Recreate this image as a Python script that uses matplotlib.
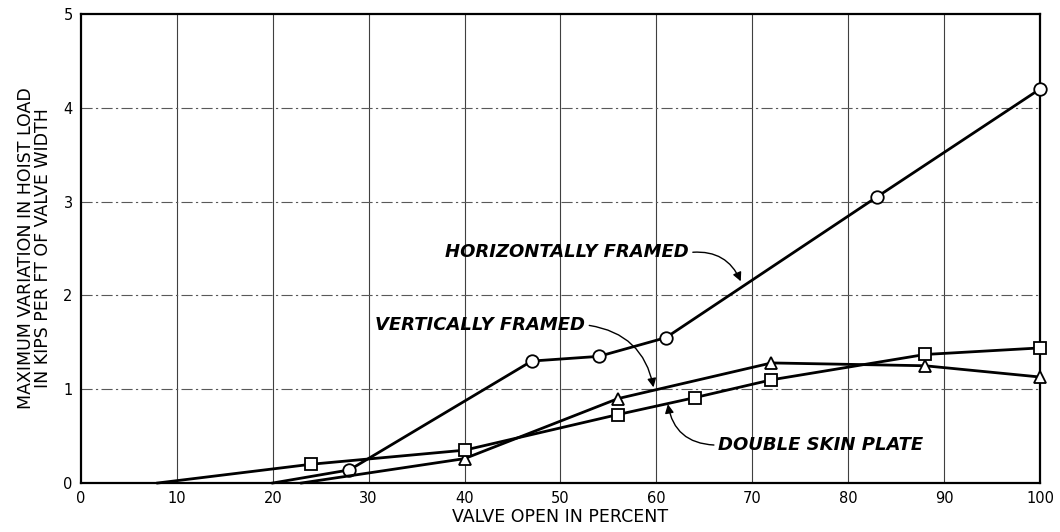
import numpy as np
import matplotlib
matplotlib.use("Agg")
import matplotlib.pyplot as plt

# percent valve opening vs hoist load variation (kips per ft)
horiz_x = [20, 28, 47, 54, 61, 83, 100]
horiz_y = [0.0, 0.14, 1.30, 1.35, 1.55, 3.05, 4.20]

vert_x = [23, 40, 56, 72, 88, 100]
vert_y = [0.0, 0.26, 0.90, 1.28, 1.25, 1.13]

double_x = [8, 24, 40, 56, 64, 72, 88, 100]
double_y = [0.0, 0.20, 0.35, 0.73, 0.91, 1.10, 1.37, 1.44]

x_ticks = list(range(0, 101, 10))
y_ticks = [0, 1, 2, 3, 4, 5]

fig = plt.figure(figsize=(10.6, 5.32), dpi=100)
ax = fig.add_axes([0.0764, 0.0921, 0.9047, 0.8816])

ax.set_xlim(0, 100)
ax.set_ylim(0, 5)
ax.set_xticks(x_ticks)
ax.set_yticks(y_ticks)
ax.tick_params(length=0, labelsize=10.5, pad=6)

for x in x_ticks[1:-1]:
    ax.axvline(x, color="0.25", lw=0.8, zorder=1)
for y in y_ticks[1:-1]:
    ax.axhline(y, color="0.35", lw=0.8, dashes=(10, 3, 2, 3), zorder=1)

for s in ax.spines.values():
    s.set_linewidth(1.6)
    s.set_color("black")

line_kw = dict(color="black", lw=2.0, markerfacecolor="white",
               markeredgecolor="black", markeredgewidth=1.3, zorder=3, clip_on=False)
ax.plot(horiz_x, horiz_y, marker="o", ms=9, markevery=list(range(1, len(horiz_x))), **line_kw)
ax.plot(vert_x, vert_y, marker="^", ms=8, markevery=list(range(1, len(vert_x))), **line_kw)
ax.plot(double_x, double_y, marker="s", ms=8, markevery=list(range(1, len(double_x))), **line_kw)

txt_kw = dict(fontsize=13, fontstyle="italic", fontweight="bold", va="center")
arr_kw = dict(arrowstyle="-|>", color="black", lw=1.0, mutation_scale=13,
              shrinkA=0, shrinkB=0)

ax.text(63.4, 2.46, "HORIZONTALLY FRAMED", ha="right", **txt_kw)
ax.annotate("", xy=(68.8, 2.15), xytext=(63.8, 2.46),
            arrowprops=dict(connectionstyle="arc3,rad=-0.35", **arr_kw))

ax.text(52.6, 1.68, "VERTICALLY FRAMED", ha="right", **txt_kw)
ax.annotate("", xy=(59.7, 1.02), xytext=(53.0, 1.68),
            arrowprops=dict(connectionstyle="arc3,rad=-0.35", **arr_kw))

ax.text(66.4, 0.405, "DOUBLE SKIN PLATE", ha="left", **txt_kw)
ax.annotate("", xy=(61.2, 0.84), xytext=(66.0, 0.405),
            arrowprops=dict(connectionstyle="arc3,rad=-0.4", **arr_kw))

ax.set_xlabel("VALVE OPEN IN PERCENT", fontsize=12.5, labelpad=1)
ax.set_ylabel("MAXIMUM VARIATION IN HOIST LOAD\nIN KIPS PER FT OF VALVE WIDTH",
              fontsize=12.5, labelpad=8, linespacing=0.95)

fig.savefig("out.png", dpi=100)
